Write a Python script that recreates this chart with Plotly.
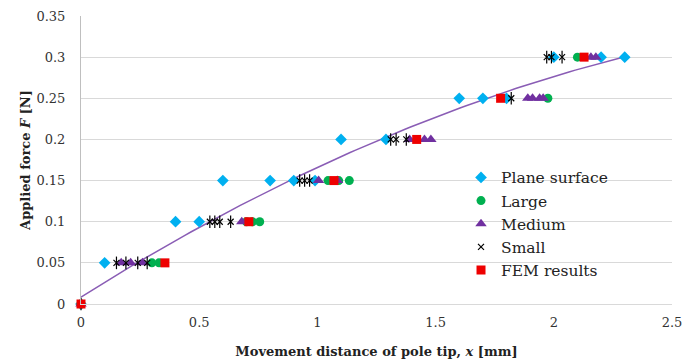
import plotly.graph_objects as go
import numpy as np

# ---- data ----
plane_x = [0, 0.10, 0.40, 0.50, 0.60, 0.80, 0.90, 0.99, 1.10, 1.29, 1.60, 1.70, 1.80, 2.00, 2.20, 2.30]
plane_f = [0, 0.05, 0.10, 0.10, 0.15, 0.15, 0.15, 0.15, 0.20, 0.20, 0.25, 0.25, 0.25, 0.30, 0.30, 0.30]

large_x = [0, 0.30, 0.33, 0.70, 0.725, 0.756, 1.045, 1.09, 1.135, 1.975, 2.10]
large_f = [0, 0.05, 0.05, 0.10, 0.10, 0.10, 0.15, 0.15, 0.15, 0.25, 0.30]

medium_x = [0, 0.17, 0.21, 0.26, 0.68, 1.005, 1.085, 1.39, 1.453, 1.48, 1.89, 1.91, 1.94, 1.955, 2.157, 2.178]
medium_f = [0, 0.05, 0.05, 0.05, 0.10, 0.15, 0.15, 0.20, 0.20, 0.20, 0.25, 0.25, 0.25, 0.25, 0.30, 0.30]

small_x = [0, 0.15, 0.19, 0.24, 0.28, 0.545, 0.566, 0.587, 0.633, 0.925, 0.946, 0.967,
           1.31, 1.333, 1.376, 1.82, 1.97, 1.99, 2.035]
small_f = [0, 0.05, 0.05, 0.05, 0.05, 0.10, 0.10, 0.10, 0.10, 0.15, 0.15, 0.15,
           0.20, 0.20, 0.20, 0.25, 0.30, 0.30, 0.30]

fem_x = [0, 0.355, 0.71, 1.07, 1.42, 1.775, 2.128]
fem_f = [0, 0.05, 0.10, 0.15, 0.20, 0.25, 0.30]

# polynomial trendline coefficients (F = a x^2 + b x + c)
trend_a, trend_b, trend_c = -0.0235, 0.181, 0.0085
trend_xmax = 2.3

x_ticks = [0, 0.5, 1, 1.5, 2, 2.5]
x_tick_labels = ["0", "0.5", "1", "1.5", "2", "2.5"]
y_ticks = [0, 0.05, 0.1, 0.15, 0.2, 0.25, 0.3, 0.35]
y_tick_labels = ["0", "0.05", "0.1", "0.15", "0.2", "0.25", "0.3", "0.35"]

FONT = "DejaVu Serif, serif"

fig = go.Figure()

tx = np.linspace(0, trend_xmax, 100)
fig.add_trace(go.Scatter(x=tx, y=trend_a * tx**2 + trend_b * tx + trend_c, mode="lines",
                         line=dict(color="#8A5DB5", width=1.5), showlegend=False,
                         hoverinfo="skip", cliponaxis=False))

fig.add_trace(go.Scatter(x=plane_x, y=plane_f, mode="markers", name="Plane surface",
                         marker=dict(symbol="diamond", size=9, color="#00B0F0"), cliponaxis=False))
fig.add_trace(go.Scatter(x=large_x, y=large_f, mode="markers", name="Large",
                         marker=dict(symbol="circle", size=9, color="#00B050"), cliponaxis=False))
fig.add_trace(go.Scatter(x=medium_x, y=medium_f, mode="markers", name="Medium",
                         marker=dict(symbol="triangle-up", size=10, color="#7030A0"), cliponaxis=False))
fig.add_trace(go.Scatter(x=small_x, y=small_f, mode="markers", name="Small", legendgroup="small",
                         marker=dict(symbol="x-thin-open", size=6, color="black",
                                     line=dict(color="black", width=1.2)), cliponaxis=False))
fig.add_trace(go.Scatter(x=small_x, y=small_f, mode="markers", name="Small", legendgroup="small",
                         showlegend=False,
                         marker=dict(symbol="line-ns-open", size=9, color="black",
                                     line=dict(color="black", width=1.2)), cliponaxis=False))
fig.add_trace(go.Scatter(x=fem_x, y=fem_f, mode="markers", name="FEM results",
                         marker=dict(symbol="square", size=9, color="#EE0000"), cliponaxis=False))

fig.update_layout(
    width=683, height=363,
    margin=dict(l=81, r=11, t=16, b=59),
    paper_bgcolor="white", plot_bgcolor="white",
    font=dict(family=FONT, size=13, color="#222222"),
    legend=dict(x=0.643, y=0.497, xanchor="left", yanchor="top",
                bgcolor="rgba(0,0,0,0)", font=dict(family=FONT, size=15.5, color="#222222"),
                tracegroupgap=0),
    xaxis=dict(range=[0, 2.5], tickvals=x_ticks, ticktext=x_tick_labels, automargin=False,
               showgrid=False, zeroline=False, showline=True, linecolor="#d9d9d9", linewidth=1,
               ticks="outside", ticklen=6, tickcolor="rgba(0,0,0,0)",
               tickfont=dict(family=FONT, size=13, color="#333333"),
               title=dict(text="<b>Movement distance of pole tip, <i>x</i> [mm]</b>",
                          font=dict(family=FONT, size=13, color="#222222"), standoff=18)),
    yaxis=dict(range=[0, 0.35], tickvals=y_ticks, ticktext=y_tick_labels, automargin=False,
               showgrid=True, gridcolor="#d9d9d9", gridwidth=1, zeroline=False,
               showline=True, linecolor="#bfbfbf", linewidth=1,
               ticks="outside", ticklen=12, tickcolor="rgba(0,0,0,0)",
               tickfont=dict(family=FONT, size=13, color="#333333"),
               title=dict(text="<b>Applied force <i>F</i> [N]</b>",
                          font=dict(family=FONT, size=13, color="#222222"), standoff=2)),
)

# remove the default 8px page margin so the figure sits at the window origin
fig.write_html("out.html", config={"displayModeBar": False},
               post_script="document.body.style.margin='0';")
